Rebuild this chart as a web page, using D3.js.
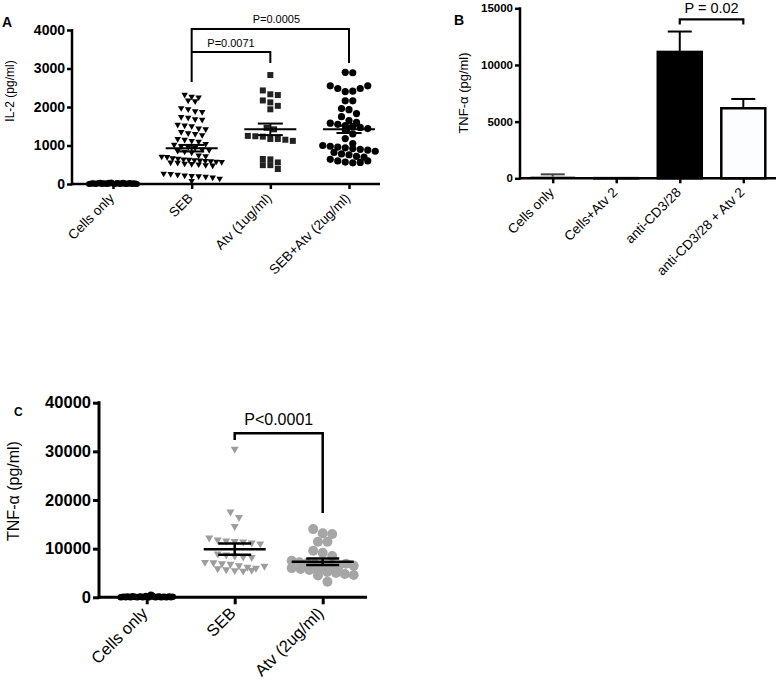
<!DOCTYPE html>
<html><head><meta charset="utf-8">
<script src="https://cdn.jsdelivr.net/npm/d3@7"></script>
<style>
html,body{margin:0;padding:0;background:#fff;}
text{font-family:"Liberation Sans",Arial,sans-serif;}
</style></head>
<body>
<svg id="chart" width="776" height="695"></svg>
<script>
// ---------- Panel A data (IL-2, pg/ml) ----------
const catsA = ["Cells only", "SEB", "Atv (1ug/ml)", "SEB+Atv (2ug/ml)"];
const ticksA = [0, 1000, 2000, 3000, 4000];
const cellsOnlyA = [0,5,10,15,20,0,5,10,25,30,0,10,20,5,15,0,30,10,40,20,5,0,15,25,10,0,20,5,35,10,0,15,5,25,10,0,20,5,10,0];
const sebA = [2300,2250,2230,2150,2130,1950,1920,1870,1850,1720,1700,1660,1650,1520,1500,1480,1420,1400,1330,1300,1280,1250,1150,1130,1100,1080,1020,1000,960,940,920,880,860,840,820,800,720,700,690,680,650,640,620,610,600,590,580,570,560,550,540,530,510,500,490,470,460,250,240,220,200,190,180,170,150,120,60];
const atv1A = [2830,2430,2330,2310,2170,2120,2030,1940,1460,1420,1250,1240,1230,1170,1170,1150,1120,650,640,560,490,490,390];
const sebAtvA = [2900,2890,2550,2480,2400,2410,2480,2550,2160,2160,1960,1930,1830,1750,1650,1600,1580,1550,1520,1500,1470,1440,1400,1300,1180,1050,1000,980,960,940,920,900,880,850,820,780,760,720,700,640,600,570,550,560,600];
const meanA = [10, 930, 1420, 1420];
const semA = [2, 85, 150, 95];

// ---------- Panel B data (TNF-alpha, pg/ml) ----------
const catsB = ["Cells only", "Cells+Atv 2", "anti-CD3/28", "anti-CD3/28 + Atv 2"];
const ticksB = [0, 5000, 10000, 15000];
const valuesB = [150, 15, 11150, 6180];
const errB = [200, 0, 1800, 820];
const fillsB = ["#d8d8d8", "#ffffff", "#000000", "#fbfdff"];

// ---------- Panel C data (TNF-alpha, pg/ml) ----------
const catsC = ["Cells only", "SEB", "Atv (2ug/ml)"];
const ticksC = [0, 10000, 20000, 30000, 40000];
const cellsOnlyC = [0,50,100,0,150,50,0,200,100,50,0,100,150,0,50,250,100,0,500,300,50,0,100,150,0,50,100,0,50,150,0,100];
const sebC = [30250,17370,16220,14370,12000,11600,11400,11300,11200,11000,10800,8700,8500,8300,8100,8000,7000,6900,6700,6600,6300,6000,5700,5500,5300,5200,5400,5800,6200];
const atvC = [14020,13140,13000,11420,11420,9570,9160,8480,7500,7200,7000,6800,6600,6400,6200,6000,5800,5600,5400,5200,5000,4800,4600,4500,6900,6500,3200];
const meanC = [60, 9900, 7300];
const semC = [15, 1150, 680];

const svg = d3.select("#chart");
const FONT = '"Liberation Sans",Arial,sans-serif';
const fmt = d3.format("d");

// simple row-based dot arrangement (GraphPad-like scatter)
function swarm(values, y, cx, rowH, dx, maxW) {
  const pts = values.map((v, i) => ({v, i, y: y(v)})).sort((a, b) => a.y - b.y);
  const rows = [];
  let cur = null;
  pts.forEach(p => {
    if (!cur || p.y - cur.y0 > rowH) { cur = {y0: p.y, pts: []}; rows.push(cur); }
    cur.pts.push(p);
  });
  rows.forEach(r => {
    const n = r.pts.length;
    const step = n > 1 ? Math.min(dx, maxW / (n - 1)) : 0;
    r.pts.sort((a, b) => a.i - b.i);
    r.pts.forEach((p, k) => { p.x = cx + (k - (n - 1) / 2) * step; });
  });
  return pts;
}
const triDown = s => `M${-s/2},${-s*0.42}L${s/2},${-s*0.42}L0,${s*0.45}Z`;
const square = s => `M${-s/2},${-s/2}h${s}v${s}h${-s}Z`;

function meanSem(g, cx, m, se, y, wMean, wCap, sw) {
  g.append("line").attr("x1", cx - wMean/2).attr("x2", cx + wMean/2).attr("y1", y(m)).attr("y2", y(m)).attr("stroke", "#000").attr("stroke-width", sw);
  g.append("line").attr("x1", cx - wCap/2).attr("x2", cx + wCap/2).attr("y1", y(m+se)).attr("y2", y(m+se)).attr("stroke", "#000").attr("stroke-width", sw);
  g.append("line").attr("x1", cx - wCap/2).attr("x2", cx + wCap/2).attr("y1", y(m-se)).attr("y2", y(m-se)).attr("stroke", "#000").attr("stroke-width", sw);
  g.append("line").attr("x1", cx).attr("x2", cx).attr("y1", y(m+se)).attr("y2", y(m-se)).attr("stroke", "#000").attr("stroke-width", sw);
}

function styleAxis(g, sw, fs) {
  g.selectAll("path.domain").remove();
  g.selectAll(".tick line").attr("stroke", "#000").attr("stroke-width", sw);
  g.selectAll(".tick text").attr("fill", "#000").style("font-family", FONT).style("font-weight", "bold").style("font-size", fs + "px");
}

function catLabels(g, cats, x, y0, fs, dx, dy) {
  g.selectAll("text.cat").data(cats).enter().append("text")
    .attr("class", "cat")
    .attr("transform", d => `translate(${x(d) + dx},${y0 + dy}) rotate(-45)`)
    .attr("text-anchor", "end")
    .style("font-size", fs + "px")
    .text(d => d);
}

function bracket(g, x1, x2, yTop, yL, yR, sw) {
  g.append("path").attr("d", `M${x1},${yL}V${yTop}H${x2}V${yR}`).attr("fill", "none").attr("stroke", "#000").attr("stroke-width", sw);
}

// ================= Panel A =================
(function() {
  const g = svg.append("g");
  const x = d3.scalePoint().domain(catsA).range([113, 349]);
  const y = d3.scaleLinear().domain([0, 4000]).range([184, 30]);
  const axL = 72, axR = 380;
  const ya = g.append("g").attr("transform", `translate(${axL},0)`).call(d3.axisLeft(y).tickValues(ticksA).tickFormat(fmt).tickSize(5).tickSizeOuter(0).tickPadding(2));
  styleAxis(ya, 2.5, 14);
  g.append("line").attr("x1", axL).attr("x2", axL).attr("y1", y(4000) - 1).attr("y2", y(0) + 1.25).attr("stroke", "#000").attr("stroke-width", 2.5);
  const xa = g.append("g").attr("transform", `translate(0,${y(0)})`).call(d3.axisBottom(x).tickSize(5).tickSizeOuter(0).tickFormat(""));
  styleAxis(xa, 2.5, 12);
  g.append("line").attr("x1", axL).attr("x2", axR).attr("y1", y(0)).attr("y2", y(0)).attr("stroke", "#000").attr("stroke-width", 2.5);
  catLabels(g, catsA, x, y(0), 13.5, 2, 15);
  g.append("text").attr("transform", `translate(14,91) rotate(-90)`).attr("text-anchor", "middle").style("font-size", "12px").text("IL-2 (pg/ml)");
  g.append("text").attr("x", 2).attr("y", 27).style("font-size", "14px").style("font-weight", "bold").text("A");

  const c0 = swarm(cellsOnlyA, y, x(catsA[0]), 30, 1.3, 48);
  g.selectAll("circle.c0").data(c0).enter().append("circle").attr("cx", d => d.x).attr("cy", d => d.y).attr("r", 3).attr("fill", "#000");
  const s1 = swarm(sebA, y, x(catsA[1]), 5.5, 7, 60);
  g.selectAll("path.s1").data(s1).enter().append("path").attr("transform", d => `translate(${d.x},${d.y})`).attr("d", triDown(6.5)).attr("fill", "#000");
  const s2 = swarm(atv1A, y, x(catsA[2]), 6, 7.5, 56);
  g.selectAll("path.s2").data(s2).enter().append("path").attr("transform", d => `translate(${d.x},${d.y})`).attr("d", square(6)).attr("fill", "#222");
  const s3 = swarm(sebAtvA, y, x(catsA[3]), 6, 7.5, 56);
  g.selectAll("circle.s3").data(s3).enter().append("circle").attr("cx", d => d.x).attr("cy", d => d.y).attr("r", 3.6).attr("fill", "#000");
  catsA.forEach((c, i) => { if (i > 0) meanSem(g, x(c), meanA[i], semA[i], y, 52, 25, 2); });

  bracket(g, x(catsA[1]), x(catsA[3]), 29, y(2650), y(3140), 2);
  bracket(g, x(catsA[1]), x(catsA[2]), 52, 52, y(3140), 2);
  g.append("text").attr("x", (x(catsA[1]) + x(catsA[3])) / 2 + 6).attr("y", 23).attr("text-anchor", "middle").style("font-size", "11px").text("P=0.0005");
  g.append("text").attr("x", (x(catsA[1]) + x(catsA[2])) / 2).attr("y", 47).attr("text-anchor", "middle").style("font-size", "11px").text("P=0.0071");
})();

// ================= Panel B =================
(function() {
  const g = svg.append("g");
  const x = d3.scalePoint().domain(catsB).range([552.7, 743.3]);
  const y = d3.scaleLinear().domain([0, 15000]).range([178.3, 8.3]);
  const axL = 520, axR = 776, bw = 44;
  g.selectAll("rect.bar").data(catsB).enter().append("rect")
    .attr("x", d => x(d) - bw / 2).attr("width", bw)
    .attr("y", (d, i) => y(valuesB[i])).attr("height", (d, i) => y(0) - y(valuesB[i]))
    .attr("fill", (d, i) => fillsB[i])
    .attr("stroke", (d, i) => i === 0 ? "#aaa" : "#000")
    .attr("stroke-width", (d, i) => i === 0 ? 1 : 2.5);
  catsB.forEach((c, i) => {
    if (errB[i] <= 0) return;
    const col = i === 0 ? "#444" : "#000";
    g.append("line").attr("x1", x(c)).attr("x2", x(c)).attr("y1", y(valuesB[i])).attr("y2", y(valuesB[i] + errB[i])).attr("stroke", col).attr("stroke-width", 2);
    g.append("line").attr("x1", x(c) - 12).attr("x2", x(c) + 12).attr("y1", y(valuesB[i] + errB[i])).attr("y2", y(valuesB[i] + errB[i])).attr("stroke", col).attr("stroke-width", 2);
  });
  const ya = g.append("g").attr("transform", `translate(${axL},0)`).call(d3.axisLeft(y).tickValues(ticksB).tickFormat(fmt).tickSize(5).tickSizeOuter(0).tickPadding(2));
  styleAxis(ya, 2.5, 11.5);
  g.append("line").attr("x1", axL).attr("x2", axL).attr("y1", y(15000) - 1).attr("y2", y(0) + 1.25).attr("stroke", "#000").attr("stroke-width", 2.5);
  const xa = g.append("g").attr("transform", `translate(0,${y(0)})`).call(d3.axisBottom(x).tickSize(5).tickSizeOuter(0).tickFormat(""));
  styleAxis(xa, 2.5, 12);
  g.append("line").attr("x1", axL).attr("x2", axR).attr("y1", y(0)).attr("y2", y(0)).attr("stroke", "#000").attr("stroke-width", 2.5);
  catLabels(g, catsB, x, y(0), 13.5, 2, 15);
  g.append("text").attr("transform", `translate(468,93) rotate(-90)`).attr("text-anchor", "middle").style("font-size", "13px").text("TNF-\u03b1 (pg/ml)");
  g.append("text").attr("x", 454).attr("y", 25).style("font-size", "14px").style("font-weight", "bold").text("B");
  bracket(g, x(catsB[2]), x(catsB[3]), 19.3, 24.5, 24.5, 2.2);
  g.append("text").attr("x", (x(catsB[2]) + x(catsB[3])) / 2).attr("y", 12.5).attr("text-anchor", "middle").style("font-size", "14.5px").text("P = 0.02");
})();

// ================= Panel C =================
(function() {
  const g = svg.append("g");
  const x = d3.scalePoint().domain(catsC).range([146.7, 322.7]);
  const y = d3.scaleLinear().domain([0, 40000]).range([597.3, 402.7]);
  const axL = 99, axR = 367;
  const ya = g.append("g").attr("transform", `translate(${axL},0)`).call(d3.axisLeft(y).tickValues(ticksC).tickFormat(fmt).tickSize(6).tickSizeOuter(0).tickPadding(2));
  styleAxis(ya, 3, 16.5);
  g.append("line").attr("x1", axL).attr("x2", axL).attr("y1", y(40000) - 1.5).attr("y2", y(0) + 1.5).attr("stroke", "#000").attr("stroke-width", 3);
  const xa = g.append("g").attr("transform", `translate(0,${y(0)})`).call(d3.axisBottom(x).tickSize(7).tickSizeOuter(0).tickFormat(""));
  styleAxis(xa, 3, 12);
  g.append("line").attr("x1", axL).attr("x2", axR).attr("y1", y(0)).attr("y2", y(0)).attr("stroke", "#000").attr("stroke-width", 3);
  catLabels(g, catsC, x, y(0), 16.5, 2, 17);
  g.append("text").attr("transform", `translate(19,491) rotate(-90)`).attr("text-anchor", "middle").style("font-size", "16px").text("TNF-\u03b1 (pg/ml)");
  g.append("text").attr("x", 14).attr("y", 416).style("font-size", "12px").style("font-weight", "bold").text("C");

  const c0 = swarm(cellsOnlyC, y, x(catsC[0]), 30, 1.7, 52);
  g.selectAll("circle.c0").data(c0).enter().append("circle").attr("cx", d => d.x).attr("cy", d => d.y).attr("r", 3.3).attr("fill", "#000");
  const s1 = swarm(sebC, y, x(catsC[1]), 6, 8.5, 62);
  g.selectAll("path.s1").data(s1).enter().append("path").attr("transform", d => `translate(${d.x},${d.y})`).attr("d", triDown(8)).attr("fill", "#9d9d9d");
  const s2 = swarm(atvC, y, x(catsC[2]), 7, 9.5, 62);
  g.selectAll("circle.s2").data(s2).enter().append("circle").attr("cx", d => d.x).attr("cy", d => d.y).attr("r", 5).attr("fill", "#a6a6a6");
  catsC.forEach((c, i) => { if (i > 0) meanSem(g, x(c), meanC[i], semC[i], y, 62, 33, 2.5); });

  bracket(g, x(catsC[1]), x(catsC[2]), 433.3, 440, 513, 2.5);
  g.append("text").attr("x", (x(catsC[1]) + x(catsC[2])) / 2).attr("y", 425).attr("text-anchor", "middle").style("font-size", "16px").text("P<0.0001");
})();
</script>
</body></html>
